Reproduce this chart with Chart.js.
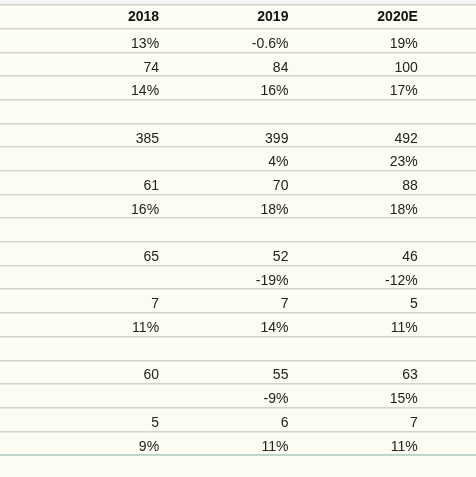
<!DOCTYPE html>
<html>
<head>
<meta charset="utf-8">
<script src="https://cdn.jsdelivr.net/npm/chart.js@4"></script>
<style>
  html, body { margin: 0; padding: 0; background: #fdfcf3; }
  #wrap { width: 476px; height: 477px; position: relative; }
</style>
</head>
<body>
<div id="wrap"><canvas id="myChart"></canvas></div>
<script>
const ctx = document.getElementById("myChart")

const years = ['2018', '2019', '2020E']

// one entry per table row below the header, null = empty cell
const col2018 = ['13%', '74', '14%', null,
  '385', null, '61', '16%', null,
  '65', null, '7', '11%', null,
  '60', null, '5', '9%']
const col2019 = ['-0.6%', '84', '16%', null,
  '399', '4%', '70', '18%', null,
  '52', '-19%', '7', '14%', null,
  '55', '-9%', '6', '11%']
const col2020 = ['19%', '100', '17%', null,
  '492', '23%', '88', '18%', null,
  '46', '-12%', '5', '11%', null,
  '63', '15%', '7', '11%']

const columns = [col2018, col2019, col2020]
const rowCount = col2018.length + 1

const datasets = columns.map((col, c) => ({
  label: years[c],
  labels: [years[c]].concat(col),
  data: [{ x: c + 1, y: 0.5 }].concat(col.map((v, r) => ({ x: c + 1, y: r + 1.5 }))),
  pointRadius: 0,
  showLine: false
}))

const cellText = {
  id: 'cellText',
  beforeDraw(chart) {
    const c = chart.ctx
    c.save()
    c.fillStyle = '#f3f3ef'
    c.fillRect(0, 0, chart.width, chart.chartArea.top)
    c.restore()
  },
  afterDatasetsDraw(chart) {
    const c = chart.ctx
    c.save()
    c.textAlign = 'right'
    c.textBaseline = 'middle'
    chart.data.datasets.forEach((ds, i) => {
      chart.getDatasetMeta(i).data.forEach((pt, j) => {
        const txt = ds.labels[j]
        if (txt == null) return
        if (j === 0) {
          c.font = 'bold 14px "Liberation Sans", Arial, sans-serif'
          c.fillStyle = '#111'
          c.fillText(txt, pt.x, pt.y + 0.5)
        } else {
          c.font = '14px "Liberation Sans", Arial, sans-serif'
          c.fillStyle = '#222'
          c.fillText(txt, pt.x, pt.y + 3.5)
        }
      })
    })
    // last rule is tinted
    const yScale = chart.scales.y
    const yb = yScale.getPixelForValue(rowCount)
    c.strokeStyle = '#b5d3cb'
    c.lineWidth = 1.5
    c.beginPath()
    c.moveTo(0, yb)
    c.lineTo(chart.width, yb)
    c.stroke()
    c.restore()
  }
}

const config = {
  type: 'scatter',
  data: { datasets },
  options: {
    responsive: true,
    maintainAspectRatio: false,
    animation: false,
    layout: { padding: { top: 5, bottom: 22, left: 0, right: 0 } },
    plugins: {
      legend: { display: false },
      tooltip: { enabled: false }
    },
    scales: {
      x: {
        type: 'linear',
        min: -0.23,
        max: 3.45,
        display: false
      },
      y: {
        type: 'linear',
        reverse: true,
        min: 0,
        max: rowCount,
        ticks: { stepSize: 1, display: false },
        border: { display: false },
        grid: { color: '#d3d3cf', lineWidth: 1.5, drawTicks: false }
      }
    }
  },
  plugins: [cellText]
}

const myChart = new Chart(ctx, config)
</script>
</body>
</html>
